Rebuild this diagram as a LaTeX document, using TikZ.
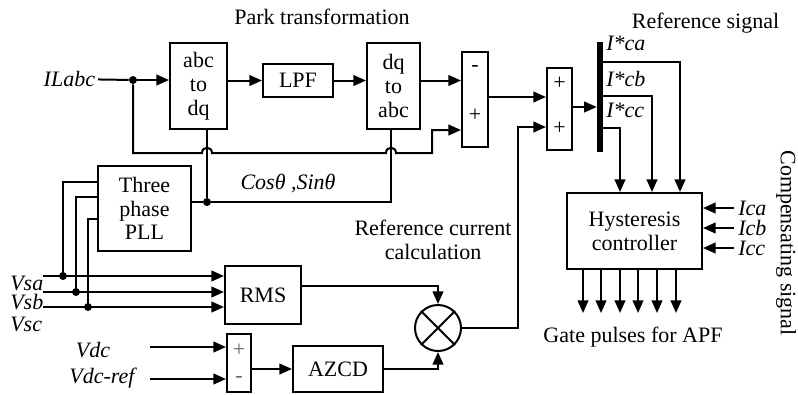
\documentclass[tikz,border=0pt]{standalone}
\usepackage{fontspec}
\setmainfont{Liberation Serif}
\usetikzlibrary{arrows.meta,calc}
\newcommand{\fsz}{\fontsize{16.5}{17.8}\selectfont}
\tikzset{
  blk/.style={draw,line width=1.5pt,inner sep=0pt,align=center,font=\fsz},
  bsize/.style 2 args={minimum width=#1*0.75pt,minimum height=#2*0.75pt},
  sig/.style={line width=1.5pt},
  sigflow/.style={line width=1.5pt,-{Triangle[length=9.5pt,width=8pt]}},
  lab/.style={font=\fsz,align=center,inner sep=0pt},
  vlab/.style={font=\fsz\itshape,inner sep=0pt},
  sgn/.style={font=\fsz,inner sep=0pt},
  jdot/.style={fill,circle,inner sep=0pt,minimum size=6pt}
}

\begin{document}
\begin{tikzpicture}[x=0.75pt,y=-0.75pt]
  \useasboundingbox (0,0) rectangle (798,394);
  % blocks
  \node[blk,bsize={57}{86}] (abcdq) at (198.5,86) {abc\\to\\dq};
  \node[blk,bsize={70}{33}] (lpf) at (298,80.5) {LPF};
  \node[blk,bsize={53}{86}] (dqabc) at (393.5,86) {dq\\to\\abc};
  \node[blk,bsize={26}{95}] (sub) at (475,99.5) {};
  \node[blk,bsize={25}{82}] (add) at (559.5,109) {};
  \node[fill,inner sep=0pt,bsize={6}{110}] (bus) at (600,97) {};
  \node[blk,bsize={135}{76}] (hyst) at (634.5,231) {Hysteresis\\controller};
  \node[blk,bsize={93}{85}] (pll) at (144.5,208.5) {Three\\phase\\PLL};
  \node[blk,bsize={76}{58}] (rms) at (263,295) {RMS};
  \node[blk,circle,bsize={46}{46}] (mult) at (438,328) {};
  \node[blk,bsize={24}{58}] (sum2) at (239,363) {};
  \node[blk,bsize={90}{46}] (azcd) at (338,369) {AZCD};
  \draw[line width=1.5pt] (mult.north west) -- (mult.south east)
    (mult.north east) -- (mult.south west);
  % signs
  \node[sgn] at (475,68) {-};
  \node[sgn] at (475,115) {+};
  \node[sgn] at (559.5,83) {+};
  \node[sgn] at (559.5,128) {+};
  \node[sgn,text=black!60] at (239,350) {+};
  \node[sgn,text=black!60] at (239,379) {-};
  % texts
  \node[lab] (park) at (322,17) {Park transformation};
  \node[lab] (refsig) at (705.5,23) {Reference signal};
  \node[lab] (refcalc) at (433,240) {Reference current\\calculation};
  \node[lab] (gate) at (633,337) {Gate pulses for APF};
  \node[lab,rotate=-90] (comp) at (786,243) {Compensating signal};
  \node[vlab] (cossin) at (288,183) {Cosθ ,Sinθ};
  \node[vlab,anchor=west] (ica) at (606,43) {I*ca};
  \node[vlab,anchor=west] (icb) at (606,79) {I*cb};
  \node[vlab,anchor=west] (icc) at (606,110) {I*cc};
  % ILabc input
  \node[vlab,anchor=east,inner sep=2pt] (ilabc) at (98,79) {ILabc};
  \node[jdot] (j1) at (133,80) {};
  \draw[sig] (ilabc) -- (j1);
  \draw[sigflow] (j1) -- (abcdq.west |- j1);
  \draw[sigflow] (abcdq.east |- lpf) -- (lpf.west);
  \draw[sigflow] (lpf) -- (dqabc.west |- lpf);
  \draw[sigflow] (dqabc.east |- lpf) -- (sub.west |- lpf);
  \draw[sigflow] (j1) -- (133,153) -- (202,153)
    .. controls (202,146) and (212,146) .. (212,153) -- (386,153)
    .. controls (386,146) and (396,146) .. (396,153) -- (432,153)
    |- (sub.west |- 0,130);
  % PLL output
  \node[jdot] (j2) at (207,202) {};
  \coordinate (j3) at (391,202);
  \draw[sig] (pll.east |- j2) -- (j2);
  \draw[sig] (j2) -- (abcdq.south -| j2);
  \draw[sig] (j2) -- (j3) -- (dqabc.south -| j3);
  % to the adder and bus
  \coordinate (mx) at (518,127);
  \draw[sigflow] (sub.east |- 0,97) -- (add.west |- 0,97);
  \draw[sigflow] (mult.east) -| (mx) -- (add.west |- mx);
  \draw[sigflow] (add.east |- 0,107) -- (bus.west |- 0,107);
  \draw[sigflow] (bus.east |- 0,62) -| (hyst.north -| 680,0);
  \draw[sigflow] (bus.east |- 0,96) -| (hyst.north -| 652,0);
  \draw[sigflow] (bus.east |- 0,128) -| (hyst.north -| 620,0);
  % compensating currents
  \node[vlab,anchor=west,inner xsep=3pt] (ca) at (734,208) {Ica};
  \node[vlab,anchor=west,inner xsep=3pt] (cb) at (734,228) {Icb};
  \node[vlab,anchor=west,inner xsep=3pt] (cc) at (734,248) {Icc};
  \draw[sigflow] (ca) -- (hyst.east |- ca);
  \draw[sigflow] (cb) -- (hyst.east |- cb);
  \draw[sigflow] (cc) -- (hyst.east |- cc);
  % gate pulses
  \foreach \gx in {583,601,620,638,657,676}
    \draw[sigflow] (hyst.south -| \gx,0) -- (\gx,313);
  % source voltages
  \node[vlab,anchor=west] (vsa) at (10,283) {Vsa};
  \node[vlab,anchor=west] (vsb) at (10,302) {Vsb};
  \node[vlab,anchor=west] (vsc) at (10,324) {Vsc};
  \coordinate (va0) at (43,276);
  \coordinate (vb0) at (43,292);
  \coordinate (vc0) at (43,307);
  \draw[sigflow] (va0) -- (rms.west |- va0);
  \draw[sigflow] (vb0) -- (rms.west |- vb0);
  \draw[sigflow] (vc0) -- (rms.west |- vc0);
  \node[jdot] (da) at (63,276) {};
  \node[jdot] (db) at (76,292) {};
  \node[jdot] (dc) at (88,307) {};
  \draw[sig] (da.center) |- (pll.west |- 0,182);
  \draw[sig] (db.center) |- (pll.west |- 0,197);
  \draw[sig] (dc.center) |- (pll.west |- 0,219);
  % dc link
  \node[vlab] (vdc) at (93,350) {Vdc};
  \node[vlab] (vdcref) at (102,378) {Vdc-ref};
  \coordinate (vd0) at (150,347);
  \coordinate (vr0) at (150,379);
  \draw[sigflow] (vd0) -- (sum2.west |- vd0);
  \draw[sigflow] (vr0) -- (sum2.west |- vr0);
  \draw[sigflow] (sum2.east |- azcd) -- (azcd.west);
  \draw[sigflow] (azcd.east) -| (mult.south);
  \draw[sigflow] (rms.east |- 0,286) -| (mult.north);
\end{tikzpicture}
\end{document}
